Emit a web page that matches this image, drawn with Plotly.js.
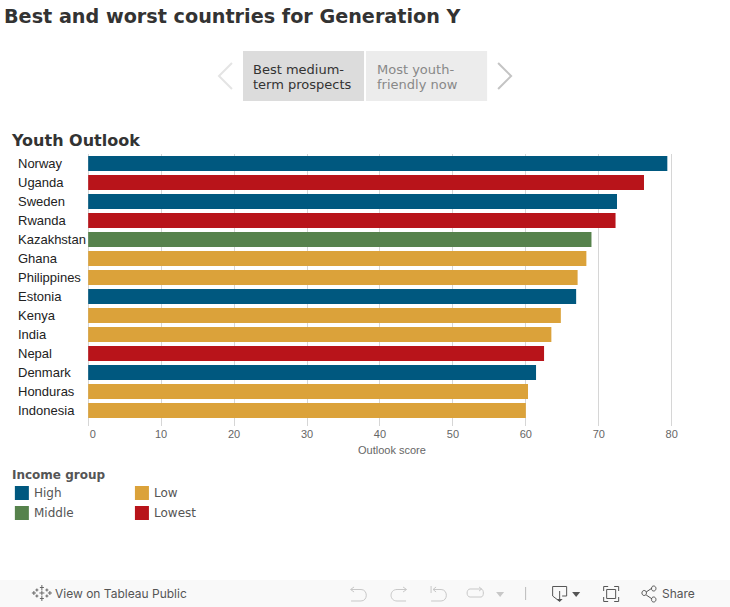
<!DOCTYPE html>
<html>
<head>
<meta charset="utf-8">
<script src="https://cdn.plot.ly/plotly-3.0.1.min.js"></script>
<style>html,body{margin:0;padding:0;background:#fff;overflow:hidden}</style>
</head>
<body>
<div id="chart" style="width:730px;height:607px"></div>
<script>
const countries = ["Norway","Uganda","Sweden","Rwanda","Kazakhstan","Ghana","Philippines","Estonia","Kenya","India","Nepal","Denmark","Honduras","Indonesia"];
const scores = [79.4,76.2,72.5,72.3,69.0,68.3,67.1,66.9,64.8,63.5,62.5,61.4,60.3,60.0];
const groups = ["High","Lowest","High","Lowest","Middle","Low","Low","High","Low","Low","Lowest","High","Low","Low"];
const groupNames = ["High","Low","Middle","Lowest"];
const groupColors = {High:"#00587f",Low:"#dba23a",Middle:"#56824c",Lowest:"#b8141a"};
const tickValues = [0,10,20,30,40,50,60,70,80];
const tickLabels = ["\u00A0\u00A0\u00A00","10","20","30","40","50","60","70","80"];
const pageTitle = "Best and worst countries for Generation Y";
const sheetTitle = "Youth Outlook";
const xTitle = "Outlook score";
const legendTitle = "Income group";

const W=730,H=607,L=86.1,R=51.2,T=154,B=181;
const pw=W-L-R, ph=H-T-B;
const fx=x=>(x-L)/pw, fy=y=>(H-B-y)/ph;
const SANS='"Liberation Sans",Arial,sans-serif', DV='"DejaVu Sans",Verdana,sans-serif', UI='Inter,Roboto,sans-serif';

function path(d,color,width,fill){
  const out=d.replace(/(-?[\d.]+) (-?[\d.]+)/g,(m,a,b)=>fx(+a).toFixed(5)+","+fy(+b).toFixed(5));
  return {type:"path",xref:"paper",yref:"paper",path:out,line:{color:color,width:width===undefined?1:width},fillcolor:fill||"rgba(0,0,0,0)",layer:"above"};
}
function rect(x0,y0,x1,y1,fill){
  return {type:"rect",xref:"paper",yref:"paper",x0:fx(x0),x1:fx(x1),y0:fy(y1),y1:fy(y0),fillcolor:fill,line:{width:0},layer:"below"};
}
function txt(t,x,y,size,color,family,anchor){
  return {text:t,xref:"paper",yref:"paper",x:fx(anchor?x:x-1),y:fy(y),xanchor:anchor||"left",yanchor:"middle",showarrow:false,
    borderpad:0,font:{size:size,color:color,family:family}};
}

const traces = groupNames.map(g=>{
  const idx=countries.map((c,i)=>i).filter(i=>groups[i]===g);
  return {type:"bar",orientation:"h",name:g,x:idx.map(i=>scores[i]),y:idx.map(i=>countries[i]),
    marker:{color:groupColors[g],line:{width:0}},showlegend:false,hoverinfo:"skip"};
});

const shapes=[
  rect(243,51,364,101,"#dcdcdc"),
  rect(366,51,487,101,"#ececec"),
  rect(0,580,730,607,"#f9f9f9"),
  path("M 232 63 L 219 76 L 232 89","#e4e4e4",2),
  path("M 498 63 L 511 76 L 498 89","#c4c4c4",2),
  // Tableau logo
  path("M 42 585 L 42 590 M 40 587.5 L 44 587.5 M 42 596 L 42 601 M 40 598.5 L 44 598.5 M 34 591 L 34 595 M 32 593 L 36 593 M 50 591 L 50 595 M 48 593 L 52 593 M 37 588.5 L 37 591.5 M 35.5 590 L 38.5 590 M 47 588.5 L 47 591.5 M 45.5 590 L 48.5 590 M 37 594.5 L 37 597.5 M 35.5 596 L 38.5 596 M 47 594.5 L 47 597.5 M 45.5 596 L 48.5 596 M 39.5 593 L 44.5 593 M 42 590.5 L 42 595.5","#666666",1),
  // undo
  path("M 351 589.5 L 361 589.5 C 368 589.5 368 601 361 601 L 351 601 M 354 587 L 350.5 589.5 L 354 592","#c8c8c8",1),
  // redo
  path("M 406 589.5 L 397 589.5 C 389 589.5 389 601 397 601 L 406 601 M 403 587 L 406.5 589.5 L 403 592","#c8c8c8",1),
  // revert
  path("M 431 586 L 431 593 M 433 589.5 L 441 589.5 C 448 589.5 448 601 441 601 L 431 601 M 436 587 L 433 589.5 L 436 592","#c8c8c8",1),
  // refresh
  path("M 470 589 L 481 589 M 481 589 C 484 589 484 597 481 597 L 470 597 C 466 597 466 589 470 589 M 479 587 L 481.5 589 L 479 591","#c8c8c8",1),
  path("M 496 592 L 504 592 L 500 597 Z","#c8c8c8",0,"#c8c8c8"),
  // separator
  path("M 525.5 587 L 525.5 600","#bbbbbb",1),
  // download
  path("M 559 601 L 552.5 596 L 552.5 586.5 L 566.5 586.5 L 566.5 596 L 562 596 M 559.5 591 L 559.5 600","#555555",1),
  path("M 556.5 599 L 562.5 599 L 559.5 602 Z","#555555",0,"#555555"),
  path("M 572 592 L 580 592 L 576 597 Z","#555555",0,"#555555"),
  // fullscreen
  path("M 603.5 591 L 603.5 586.5 L 608 586.5 M 614 586.5 L 618.5 586.5 L 618.5 591 M 618.5 597 L 618.5 601.5 L 614 601.5 M 608 601.5 L 603.5 601.5 L 603.5 597 M 606.5 589.5 L 615.5 589.5 L 615.5 598.5 L 606.5 598.5 Z","#555555",1),
  // share
  path("M 646 592 L 652 588 M 646 595 L 652 599 M 644 590.5 C 647 590.5 647 595.5 644 595.5 C 641 595.5 641 590.5 644 590.5 M 653.5 586 C 656.5 586 656.5 591 653.5 591 C 650.5 591 650.5 586 653.5 586 M 653.5 597 C 656.5 597 656.5 602 653.5 602 C 650.5 602 650.5 597 653.5 597","#555555",1)
];

const annotations=[
  txt("Best medium-",253,69,13,"#333333",DV),
  txt("term prospects",253,84,13,"#333333",DV),
  txt("Most youth-",377,69,13,"#888888",DV),
  txt("friendly now",377,84,13,"#888888",DV),
  txt("<b>"+sheetTitle+"</b>",11.5,140.5,16,"#333333",DV),
  txt(xTitle,392,450,11,"#666666",SANS,"center"),
  txt("<b>"+legendTitle+"</b>",12,474.5,12,"#555555",DV),
  txt("View on Tableau Public",55,593.5,12,"#555555",UI),
  txt("Share",662,593.5,12,"#555555",UI)
];
countries.forEach(c=>annotations.push({text:c,xref:"paper",yref:"y",x:fx(17),y:c,xanchor:"left",yanchor:"middle",showarrow:false,borderpad:0,font:{size:13,color:"#222222",family:SANS}}));
const legendPos=[[15,486],[135,486],[15,506],[135,506]];
groupNames.forEach((g,i)=>{
  const p=legendPos[i];
  shapes.push(rect(p[0],p[1],p[0]+14,p[1]+14,groupColors[g]));
  annotations.push(txt(g,p[0]+19,p[1]+7,12,"#555555",DV));
});

const layout={
  width:W,height:H,margin:{l:L,r:R,t:T,b:B,pad:0},autosize:false,
  paper_bgcolor:"#fff",plot_bgcolor:"#fff",
  title:{text:"<b>"+pageTitle+"</b>",x:4/W,xref:"container",xanchor:"left",y:1-16.5/H,yref:"container",yanchor:"middle",font:{size:19.2,color:"#333333",family:DV}},
  barmode:"overlay",bargap:4/19,showlegend:false,hovermode:false,
  xaxis:{range:[-0.3,81],tickmode:"array",tickvals:tickValues,ticktext:tickLabels,showgrid:true,gridcolor:"#d6d6d6",gridwidth:1,
    zeroline:false,showline:false,ticks:"",tickfont:{size:11,color:"#666666",family:SANS},fixedrange:true},
  yaxis:{type:"category",categoryorder:"array",categoryarray:countries,range:[13.816,-0.5],showticklabels:false,showgrid:false,
    zeroline:false,showline:false,ticks:"",fixedrange:true},
  shapes:shapes,annotations:annotations
};
Plotly.newPlot("chart",traces,layout,{displayModeBar:false,staticPlot:true,responsive:false});
</script>
</body>
</html>
